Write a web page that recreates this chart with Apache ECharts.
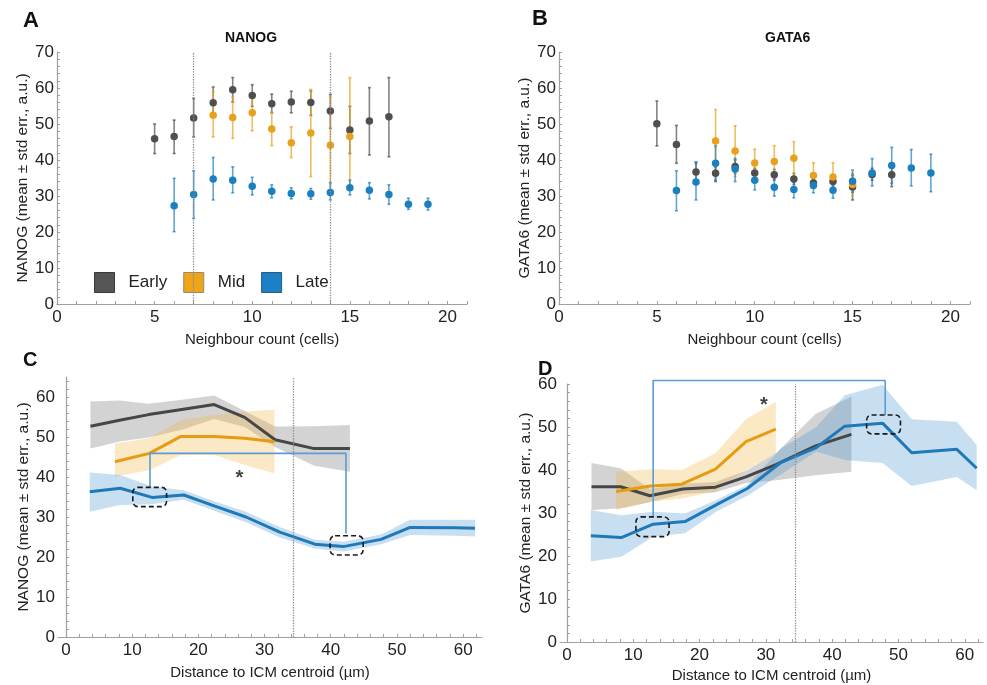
<!DOCTYPE html>
<html>
<head>
<meta charset="utf-8">
<script src="https://cdn.jsdelivr.net/npm/echarts@6/dist/echarts.min.js"></script>
<style>
  html, body { margin: 0; padding: 0; background: #fff; }
  #chart { width: 987px; height: 685px; }
</style>
</head>
<body>
<div id="chart"></div>
<script>
// ---- A / B : neighbour count ----
const nbEarly = [5, 6, 7, 8, 9, 10, 11, 12, 13, 14, 15, 16, 17];
const nbMid = [8, 9, 10, 11, 12, 13, 14, 15];
const nbLate = [6, 7, 8, 9, 10, 11, 12, 13, 14, 15, 16, 17, 18, 19];

const nanogEarly = [45.9, 46.5, 51.7, 55.9, 59.5, 57.9, 55.6, 56.1, 56.0, 53.6, 48.3, 50.8, 52.0];
const nanogEarlyHi = [50.0, 51.1, 57.1, 60.3, 62.9, 60.9, 58.3, 59.1, 59.2, 58.2, 54.9, 60.1, 62.9];
const nanogEarlyLo = [41.8, 41.8, 46.4, 52.4, 56.1, 54.9, 53.1, 53.1, 52.4, 48.8, 41.8, 41.4, 40.9];
const nanogMid = [52.4, 51.8, 53.1, 48.6, 44.8, 47.5, 44.1, 46.5];
const nanogMidHi = [58.9, 57.5, 58.0, 53.4, 49.2, 59.6, 57.5, 62.9];
const nanogMidLo = [46.4, 46.0, 48.1, 44.0, 40.7, 35.4, 31.5, 31.7];
const nanogLate = [27.3, 30.4, 34.7, 34.4, 32.7, 31.3, 30.7, 30.6, 31.0, 32.3, 31.6, 30.4, 27.7, 27.7];
const nanogLateHi = [34.9, 37.0, 40.7, 38.1, 35.2, 33.1, 32.3, 32.1, 33.7, 34.4, 33.7, 33.1, 29.4, 29.4];
const nanogLateLo = [20.1, 23.8, 28.9, 30.9, 30.3, 29.5, 29.2, 29.1, 28.9, 30.3, 29.2, 27.7, 26.3, 26.1];

const gata6Early = [50.1, 44.3, 36.7, 36.3, 38.2, 36.4, 35.9, 34.7, 33.6, 34.0, 32.5, 36.0, 35.9];
const gata6EarlyHi = [56.4, 49.6, 39.5, 38.1, 40.0, 37.7, 37.4, 36.3, 34.6, 35.4, 35.8, 37.7, 38.8];
const gata6EarlyLo = [43.9, 39.1, 34.0, 34.0, 36.3, 35.1, 34.4, 33.2, 32.6, 32.8, 28.9, 34.4, 32.6];
const gata6Mid = [45.3, 42.5, 39.2, 39.6, 40.5, 35.7, 35.3, 33.2];
const gata6MidHi = [54.0, 49.5, 43.0, 44.0, 45.1, 39.2, 39.2, 36.3];
const gata6MidLo = [36.7, 35.4, 35.4, 35.4, 35.4, 32.3, 32.1, 30.1];
const gata6Late = [31.5, 33.9, 39.1, 37.5, 34.4, 32.4, 31.8, 32.9, 31.6, 34.1, 36.4, 38.5, 37.8, 36.4];
const gata6LateHi = [37.0, 39.1, 43.9, 40.4, 37.0, 34.9, 33.8, 34.6, 33.5, 37.2, 40.4, 43.5, 42.9, 41.6];
const gata6LateLo = [25.9, 28.9, 34.4, 34.0, 31.7, 30.0, 29.5, 30.9, 29.4, 31.0, 32.8, 33.5, 32.8, 31.2];

const cutoffsA = [7, 14];

// ---- C / D : distance to ICM centroid ----
const distEarly = [3.7, 8.1, 12.5, 17.5, 22.4, 27.0, 31.6, 37.5, 42.9];
const distMid = [7.4, 12.6, 17.3, 22.4, 27.0, 31.5];
const distLate = [3.6, 8.2, 13.0, 17.8, 22.5, 27.2, 32.3, 37.6, 41.9, 47.6, 52.0, 58.8, 61.8];

const nanogDistEarly = [52.7, 54.2, 55.6, 56.9, 58.1, 54.9, 49.3, 47.1, 47.1];
const nanogDistEarlyHi = [58.9, 59.1, 58.3, 59.3, 60.4, 56.5, 52.6, 52.7, 53.0];
const nanogDistEarlyLo = [47.1, 48.9, 49.9, 51.8, 54.5, 52.5, 47.5, 42.8, 41.3];
const nanogDistMid = [43.8, 45.9, 50.1, 50.1, 49.7, 48.8];
const nanogDistMidHi = [48.4, 49.7, 54.2, 55.5, 56.3, 56.9];
const nanogDistMidLo = [40.1, 41.7, 45.5, 45.5, 43.0, 40.9];
const nanogDistLate = [36.3, 37.2, 34.9, 35.5, 32.7, 30.0, 26.2, 23.2, 22.6, 24.4, 27.4, 27.3, 27.2];
const nanogDistLateHi = [41.1, 40.5, 37.6, 36.7, 33.9, 31.3, 27.5, 24.3, 23.8, 25.6, 29.3, 29.3, 29.3];
const nanogDistLateLo = [31.3, 33.0, 33.2, 34.3, 31.5, 28.7, 24.9, 22.1, 21.4, 23.2, 25.5, 25.3, 25.1];

const gata6DistEarly = [36.1, 36.1, 34.0, 35.6, 36.0, 38.4, 41.3, 45.6, 48.3];
const gata6DistEarlyHi = [41.6, 40.4, 35.6, 36.8, 37.2, 39.8, 44.0, 53.0, 57.1];
const gata6DistEarlyLo = [30.7, 31.1, 32.5, 34.4, 34.8, 37.0, 37.6, 38.8, 39.6];
const gata6DistMid = [35.0, 36.3, 36.7, 40.2, 46.6, 49.5];
const gata6DistMidHi = [39.6, 40.2, 40.0, 43.9, 51.8, 55.9];
const gata6DistMidLo = [30.7, 32.6, 33.4, 35.0, 40.0, 43.9];
const gata6DistLate = [24.7, 24.3, 27.4, 28.0, 31.9, 35.7, 41.8, 45.2, 50.2, 50.9, 44.0, 44.8, 40.4];
const gata6DistLateHi = [30.7, 29.5, 30.3, 29.9, 33.0, 36.5, 45.0, 50.0, 57.4, 59.8, 51.8, 51.2, 45.8];
const gata6DistLateLo = [18.7, 19.8, 24.5, 25.3, 30.3, 34.0, 39.0, 44.3, 42.3, 41.6, 36.3, 38.4, 35.3];

// annotations (data coordinates)
const bracketC = [[12.7, 37.4], [12.7, 45.9], [42.3, 45.9], [42.3, 25.9]];
const boxesC = [[10.1, 32.6, 15.2, 37.4], [39.9, 20.5, 44.9, 25.3]];
const starC = [26.2, 40.7];
const cutoffC = 34.4;
const bracketD = [[13.0, 29.1], [13.0, 60.8], [48.0, 60.8], [48.0, 52.8]];
const boxesD = [[10.4, 24.5, 15.4, 29.1], [45.2, 48.4, 50.3, 52.8]];
const starD = [29.7, 55.9];
const cutoffD = 34.5;

// tick labels
const xLabelsAB = [0, 5, 10, 15, 20];
const yLabelsAB = [0, 10, 20, 30, 40, 50, 60, 70];
const xLabelsCD = [0, 10, 20, 30, 40, 50, 60];
const yLabelsCD = [0, 10, 20, 30, 40, 50, 60];

const FONT = 'Liberation Sans, Arial, sans-serif';
const COL = { Early: '#4f4f4f', Mid: '#e8a11c', Late: '#1c7fc0' };
const LINE = { Early: '#464646', Mid: '#e69c12', Late: '#1f78b8' };
const BAND = { Early: 'rgba(140,140,140,0.38)', Mid: 'rgba(243,180,60,0.30)', Late: 'rgba(70,150,210,0.30)' };

function range(a, b, step) {
    const out = [];
    for (let v = a; v <= b + 1e-9; v += step) out.push(+v.toFixed(3));
    return out;
}

function xAxisCfg(gi, min, max, labels, ticks, name, gap) {
    return {
        type: 'value', gridIndex: gi, min: min, max: max,
        name: name, nameLocation: 'middle', nameGap: gap,
        nameTextStyle: { fontSize: 15, color: '#222', fontFamily: FONT },
        axisLine: { lineStyle: { color: '#a0a0a0', width: 1.2 } },
        axisTick: { show: true, inside: true, length: 3, customValues: ticks, lineStyle: { color: '#a0a0a0' } },
        axisLabel: { customValues: labels, fontSize: 17, color: '#222', margin: 5, fontFamily: FONT },
        splitLine: { show: false }
    };
}

function yAxisCfg(gi, min, max, labels, ticks, name) {
    return {
        type: 'value', gridIndex: gi, min: min, max: max,
        name: name, nameLocation: 'middle', nameGap: 25,
        nameTextStyle: { fontSize: 15.5, color: '#222', fontFamily: FONT },
        axisLine: { show: true, lineStyle: { color: '#a0a0a0', width: 1.2 } },
        axisTick: { show: true, inside: true, length: 3, customValues: ticks, lineStyle: { color: '#a0a0a0' } },
        axisLabel: { customValues: labels, fontSize: 17, color: '#222', margin: 3, fontFamily: FONT },
        splitLine: { show: false }
    };
}

// error bars for panels A/B
function errBars(stage, xs, lo, hi, gi) {
    const color = COL[stage];
    return {
        type: 'custom', name: stage + ' err', xAxisIndex: gi, yAxisIndex: gi, z: 2,
        data: xs.map((x, i) => [x, lo[i], hi[i]]),
        encode: { x: 0, y: [1, 2] },
        renderItem: function (params, api) {
            const x = api.value(0);
            const p1 = api.coord([x, api.value(1)]);
            const p2 = api.coord([x, api.value(2)]);
            const st = { stroke: color, lineWidth: 1.6, opacity: 0.7 };
            return {
                type: 'group',
                children: [
                    { type: 'line', shape: { x1: p1[0], y1: p1[1], x2: p2[0], y2: p2[1] }, style: st },
                    { type: 'line', shape: { x1: p1[0] - 1.5, y1: p1[1], x2: p1[0] + 1.5, y2: p1[1] }, style: st },
                    { type: 'line', shape: { x1: p2[0] - 1.5, y1: p2[1], x2: p2[0] + 1.5, y2: p2[1] }, style: st }
                ]
            };
        }
    };
}

function points(stage, xs, ys, gi, extra) {
    return Object.assign({
        type: 'scatter', name: stage, xAxisIndex: gi, yAxisIndex: gi, z: 3,
        symbolSize: 7.5, itemStyle: { color: COL[stage], opacity: 1 },
        data: xs.map((x, i) => [x, ys[i]])
    }, extra || {});
}

// shaded std err band for panels C/D
function band(stage, xs, lo, hi, gi) {
    return {
        type: 'custom', name: stage + ' band', xAxisIndex: gi, yAxisIndex: gi, z: 1,
        data: xs.map((x, i) => [x, lo[i], hi[i]]),
        encode: { x: 0, y: [1, 2] },
        renderItem: function (params, api) {
            if (params.dataIndex !== 0) return null;
            const up = xs.map((x, i) => api.coord([x, hi[i]]));
            const dn = xs.map((x, i) => api.coord([x, lo[i]])).reverse();
            return { type: 'polygon', shape: { points: up.concat(dn) }, style: { fill: BAND[stage] } };
        }
    };
}

function meanLine(stage, xs, ys, gi, extra) {
    return Object.assign({
        type: 'line', name: stage + ' mean', xAxisIndex: gi, yAxisIndex: gi, z: 4,
        symbol: 'none', lineStyle: { width: 3, color: LINE[stage] }, itemStyle: { color: LINE[stage] },
        data: xs.map((x, i) => [x, ys[i]])
    }, extra || {});
}

function bracket(pts, gi) {
    return {
        type: 'line', name: 'bracket', xAxisIndex: gi, yAxisIndex: gi, z: 5, clip: false,
        symbol: 'none', lineStyle: { width: 1.6, color: '#5b9bd8' }, data: pts
    };
}

function boxes(list, gi) {
    return {
        type: 'custom', name: 'boxes', xAxisIndex: gi, yAxisIndex: gi, z: 6, clip: false,
        data: list,
        encode: { x: [0, 2], y: [1, 3] },
        renderItem: function (params, api) {
            const a = api.coord([api.value(0), api.value(3)]);
            const b = api.coord([api.value(2), api.value(1)]);
            return {
                type: 'rect',
                shape: { x: a[0], y: a[1], width: b[0] - a[0], height: b[1] - a[1], r: 5 },
                style: { fill: 'none', stroke: '#1a1a1a', lineWidth: 1.6, lineDash: [5, 3] }
            };
        }
    };
}

function star(pt, gi) {
    return {
        type: 'scatter', name: 'star', xAxisIndex: gi, yAxisIndex: gi, z: 7,
        symbolSize: 1, itemStyle: { color: 'rgba(0,0,0,0)' },
        label: { show: true, position: 'inside', formatter: '*', fontSize: 20, fontWeight: 'bold', color: '#111', offset: [0, 4], fontFamily: FONT },
        data: [pt]
    };
}

function vline(values) {
    return {
        symbol: 'none', silent: true, label: { show: false },
        lineStyle: { type: 'dotted', color: '#8a8a8a', width: 1.3 },
        data: values.map(v => ({ xAxis: v }))
    };
}

const chart = echarts.init(document.getElementById('chart'), null, { renderer: 'canvas' });

const option = {
    backgroundColor: '#fff',
    animation: false,
    title: [
        { text: 'A', left: 18, top: 5, textStyle: { fontSize: 22, fontWeight: 'bold', color: '#111', fontFamily: FONT } },
        { text: 'B', left: 527, top: 3, textStyle: { fontSize: 22, fontWeight: 'bold', color: '#111', fontFamily: FONT } },
        { text: 'C', left: 18, top: 345, textStyle: { fontSize: 20, fontWeight: 'bold', color: '#111', fontFamily: FONT } },
        { text: 'D', left: 533, top: 354, textStyle: { fontSize: 20, fontWeight: 'bold', color: '#111', fontFamily: FONT } },
        { text: 'NANOG', left: 220, top: 26, textStyle: { fontSize: 14, fontWeight: 'bold', color: '#111', fontFamily: FONT } },
        { text: 'GATA6', left: 760, top: 26, textStyle: { fontSize: 14, fontWeight: 'bold', color: '#111', fontFamily: FONT } }
    ],
    legend: {
        left: 89, top: 267, orient: 'horizontal',
        itemWidth: 20, itemHeight: 20, itemGap: 16, icon: 'rect',
        textStyle: { fontSize: 17, color: '#222', fontFamily: FONT, padding: [0, 0, 0, 9] },
        data: [
            { name: 'Early', itemStyle: { color: '#555555', borderColor: '#3a3a3a', borderWidth: 1 } },
            { name: 'Mid', itemStyle: { color: '#eea51a', borderColor: '#9a8a6a', borderWidth: 1 } },
            { name: 'Late', itemStyle: { color: '#1b80c4', borderColor: '#2a5a80', borderWidth: 1 } }
        ]
    },
    grid: [
        { left: 57, top: 52, width: 410, height: 252 },
        { left: 559, top: 52, width: 411, height: 252 },
        { left: 58, top: 377, width: 424, height: 260 },
        { left: 560, top: 384, width: 423, height: 258 }
    ],
    xAxis: [
        xAxisCfg(0, 0, 21, xLabelsAB, range(0, 21, 1), 'Neighbour count (cells)', 28),
        xAxisCfg(1, 0, 21, xLabelsAB, range(0, 21, 1), 'Neighbour count (cells)', 28),
        xAxisCfg(2, -1.2, 62.85, xLabelsCD, range(0, 62, 2), 'Distance to ICM centroid (µm)', 28),
        xAxisCfg(3, -1.05, 62.75, xLabelsCD, range(0, 62, 2), 'Distance to ICM centroid (µm)', 26)
    ],
    yAxis: [
        yAxisCfg(0, 0, 70, yLabelsAB, range(0, 70, 2), 'NANOG (mean ± std err., a.u.)'),
        yAxisCfg(1, 0, 70, yLabelsAB, range(0, 70, 2), 'GATA6 (mean ± std err., a.u.)'),
        yAxisCfg(2, 0, 65, yLabelsCD, range(0, 64, 2), 'NANOG (mean ± std err., a.u.)'),
        yAxisCfg(3, 0, 60, yLabelsCD, range(0, 60, 2), 'GATA6 (mean ± std err., a.u.)')
    ],
    series: [
        // A
        errBars('Early', nbEarly, nanogEarlyLo, nanogEarlyHi, 0),
        errBars('Mid', nbMid, nanogMidLo, nanogMidHi, 0),
        errBars('Late', nbLate, nanogLateLo, nanogLateHi, 0),
        points('Early', nbEarly, nanogEarly, 0, { markLine: vline(cutoffsA) }),
        points('Mid', nbMid, nanogMid, 0),
        points('Late', nbLate, nanogLate, 0),
        // B
        errBars('Early', nbEarly, gata6EarlyLo, gata6EarlyHi, 1),
        errBars('Mid', nbMid, gata6MidLo, gata6MidHi, 1),
        errBars('Late', nbLate, gata6LateLo, gata6LateHi, 1),
        points('Early', nbEarly, gata6Early, 1),
        points('Mid', nbMid, gata6Mid, 1),
        points('Late', nbLate, gata6Late, 1),
        // C
        band('Early', distEarly, nanogDistEarlyLo, nanogDistEarlyHi, 2),
        band('Mid', distMid, nanogDistMidLo, nanogDistMidHi, 2),
        band('Late', distLate, nanogDistLateLo, nanogDistLateHi, 2),
        meanLine('Early', distEarly, nanogDistEarly, 2, { markLine: vline([cutoffC]) }),
        meanLine('Mid', distMid, nanogDistMid, 2),
        meanLine('Late', distLate, nanogDistLate, 2),
        bracket(bracketC, 2),
        boxes(boxesC, 2),
        star(starC, 2),
        // D
        band('Early', distEarly, gata6DistEarlyLo, gata6DistEarlyHi, 3),
        band('Mid', distMid, gata6DistMidLo, gata6DistMidHi, 3),
        band('Late', distLate, gata6DistLateLo, gata6DistLateHi, 3),
        meanLine('Early', distEarly, gata6DistEarly, 3, { markLine: vline([cutoffD]) }),
        meanLine('Mid', distMid, gata6DistMid, 3),
        meanLine('Late', distLate, gata6DistLate, 3),
        bracket(bracketD, 3),
        boxes(boxesD, 3),
        star(starD, 3)
    ]
};

chart.setOption(option);
</script>
</body>
</html>
